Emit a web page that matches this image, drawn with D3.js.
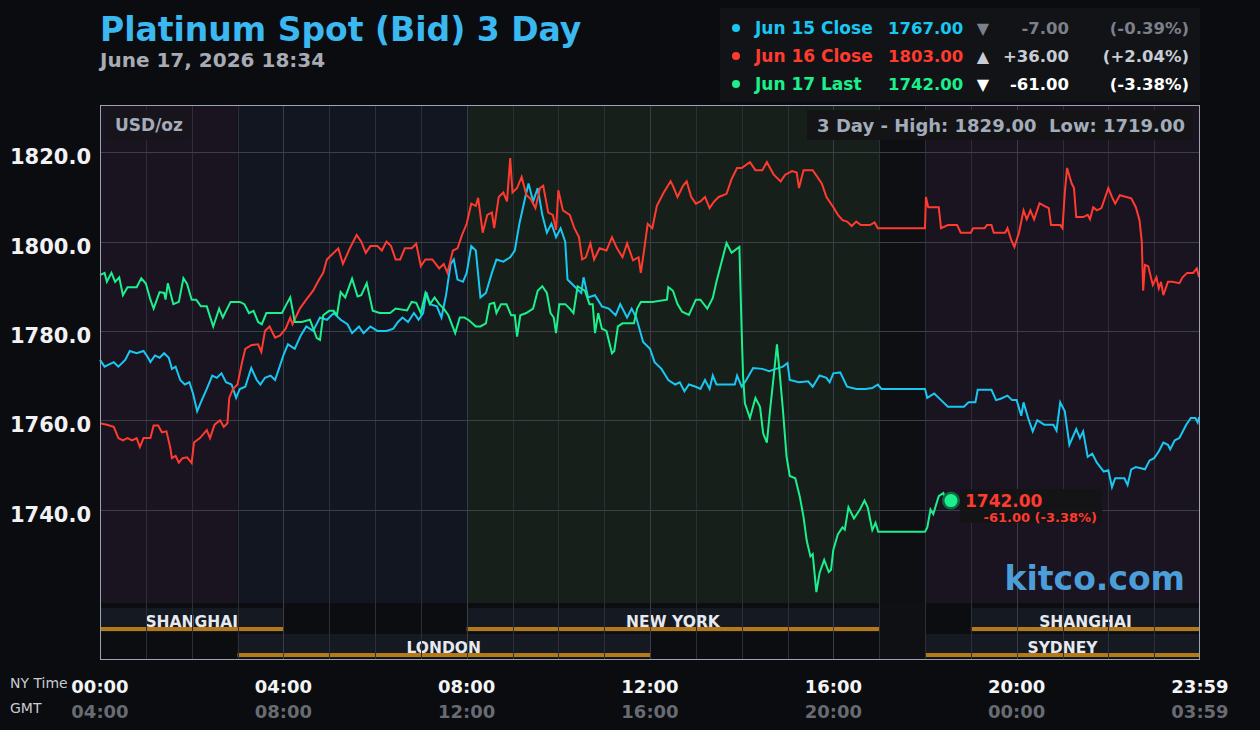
<!DOCTYPE html>
<html>
<head>
<meta charset="utf-8">
<script src="https://cdn.jsdelivr.net/npm/d3@7"></script>
<style>
	html, body { margin: 0; padding: 0; background: #0a0c10; }
	svg { display: block; font-family: "DejaVu Sans", sans-serif; }
</style>
</head>
<body>
<div id="graph"></div>
<script>
// ---- data (time in NY hours, price in USD/oz) ----
const jun15 = [[0,1773.5],[0.1,1772],[0.2,1772.5],[0.3,1773],[0.4,1772],[0.55,1773.5],[0.65,1775.5],[0.8,1775],[0.95,1775.5],[1.05,1774],[1.1,1773],[1.2,1774.5],[1.3,1774],[1.4,1775],[1.5,1774],[1.57,1771.5],[1.65,1772],[1.75,1769],[1.85,1768],[1.95,1768.5],[2.03,1766],[2.12,1762],[2.2,1764],[2.33,1767],[2.45,1770],[2.55,1769.5],[2.65,1770.5],[2.75,1768.5],[2.87,1768],[2.97,1765],[3.05,1767],[3.17,1767.5],[3.3,1771.7],[3.42,1769],[3.5,1768],[3.6,1769.5],[3.72,1770],[3.82,1769],[3.92,1772],[4.0,1774.5],[4.1,1777],[4.25,1776],[4.38,1779],[4.5,1781],[4.65,1780],[4.8,1783],[4.95,1782.5],[5.1,1784],[5.25,1782.5],[5.4,1781.5],[5.5,1779.5],[5.65,1781],[5.75,1779.5],[5.9,1781],[6.05,1780],[6.25,1780],[6.4,1780.5],[6.5,1782],[6.6,1783],[6.72,1782],[6.85,1784],[6.95,1782.5],[7.05,1784],[7.12,1788.7],[7.2,1786],[7.35,1785.5],[7.45,1783],[7.55,1788],[7.65,1795],[7.72,1796],[7.8,1791.5],[7.92,1791],[8.0,1793],[8.1,1799],[8.2,1798],[8.3,1787.5],[8.42,1788.5],[8.55,1793],[8.65,1796],[8.8,1795.5],[8.95,1796.5],[9.05,1798],[9.15,1804],[9.28,1810],[9.35,1813],[9.45,1809],[9.55,1812],[9.65,1806],[9.75,1802],[9.85,1804],[9.95,1801],[10.05,1803],[10.15,1800],[10.2,1791.5],[10.35,1790],[10.5,1788.5],[10.55,1792],[10.65,1787.5],[10.8,1788],[10.95,1785.5],[11.1,1785],[11.25,1783.5],[11.35,1786],[11.5,1783],[11.6,1785],[11.7,1783],[11.85,1777.5],[12.0,1776],[12.1,1773],[12.25,1771.5],[12.4,1769],[12.55,1768],[12.65,1768.5],[12.75,1766.5],[12.85,1768],[13.0,1767.5],[13.1,1767],[13.2,1769],[13.3,1767],[13.37,1770],[13.45,1768],[13.6,1768],[13.85,1768],[13.9,1770],[14.0,1767.5],[14.1,1769],[14.25,1771.7],[14.45,1771.5],[14.6,1771],[14.75,1771.5],[14.9,1772],[15.0,1772.8],[15.05,1769],[15.25,1768.5],[15.45,1768.7],[15.55,1767.5],[15.7,1770],[15.85,1769.5],[15.92,1768.5],[16.0,1770.5],[16.15,1770.7],[16.3,1767.5],[16.5,1767],[16.7,1767],[16.85,1767.2],[16.97,1768],[17.05,1767],[18.0,1767],[18.05,1765],[18.2,1766],[18.35,1764.5],[18.5,1763],[18.85,1763],[18.95,1764],[19.1,1764],[19.15,1766.8],[19.45,1766.8],[19.55,1764.5],[19.65,1764.8],[19.8,1765.5],[19.9,1764.5],[20.0,1764.5],[20.1,1761],[20.15,1764],[20.25,1760.5],[20.35,1757.5],[20.45,1760],[20.6,1759],[20.8,1759],[20.87,1757.7],[20.95,1764],[21.05,1762],[21.15,1754.5],[21.3,1758],[21.38,1756],[21.45,1757.5],[21.55,1751.8],[21.65,1752.5],[21.75,1750.5],[21.9,1748.5],[22.0,1748.8],[22.08,1745],[22.15,1747],[22.35,1747],[22.42,1745.5],[22.5,1749],[22.6,1749.5],[22.8,1749],[22.9,1751],[23.0,1751.5],[23.1,1753],[23.2,1755],[23.3,1754.5],[23.35,1753.5],[23.45,1755.5],[23.55,1756],[23.7,1759],[23.8,1760.5],[23.9,1760.5],[23.95,1759.5],[23.98,1760.7]];

const jun16 = [[0,1759.3],[0.15,1759],[0.3,1758.5],[0.33,1757.8],[0.4,1756],[0.5,1755.5],[0.6,1756],[0.7,1755.5],[0.8,1756],[0.87,1754],[0.95,1756],[1.1,1756],[1.17,1758.8],[1.27,1758.8],[1.35,1757.3],[1.45,1757.5],[1.53,1754],[1.57,1751.5],[1.65,1752],[1.72,1750.5],[1.8,1751.5],[1.9,1751.7],[2.0,1750.4],[2.05,1755],[2.18,1756],[2.33,1757.8],[2.4,1756],[2.5,1759],[2.62,1760],[2.7,1758.5],[2.78,1759.3],[2.82,1765],[2.9,1767],[3.0,1768],[3.1,1773],[3.17,1776],[3.3,1776.8],[3.45,1777],[3.52,1775.3],[3.6,1780],[3.7,1781],[3.82,1778.5],[3.93,1779],[4.05,1780.5],[4.15,1783],[4.2,1781.5],[4.36,1785],[4.5,1787],[4.65,1789],[4.78,1791.5],[4.87,1793],[4.95,1796],[5.05,1797],[5.2,1798.5],[5.3,1795],[5.45,1798.5],[5.6,1801.5],[5.7,1800],[5.8,1797.5],[5.9,1799],[6.05,1799],[6.15,1798],[6.25,1800],[6.35,1799],[6.45,1796],[6.55,1796],[6.65,1798.5],[6.8,1798.5],[6.9,1799.5],[7.0,1794.5],[7.1,1796],[7.25,1796],[7.4,1794],[7.5,1795],[7.58,1793],[7.7,1798],[7.8,1798.5],[7.9,1801.5],[8.0,1804],[8.1,1808.5],[8.2,1808],[8.25,1809.8],[8.35,1802],[8.45,1806],[8.55,1806.5],[8.6,1803],[8.7,1810],[8.8,1811],[8.88,1809],[8.95,1818.7],[9.0,1811],[9.1,1812],[9.2,1814.5],[9.3,1810.5],[9.4,1809.5],[9.5,1807.5],[9.6,1812],[9.67,1812.5],[9.78,1806.5],[9.88,1806],[9.95,1802.6],[10.0,1811.5],[10.1,1807],[10.25,1806],[10.35,1803],[10.45,1801],[10.52,1796],[10.6,1796.5],[10.7,1799.6],[10.78,1796],[10.9,1798.5],[11.05,1798],[11.17,1801],[11.28,1798.5],[11.4,1796.5],[11.5,1799.6],[11.63,1795.8],[11.75,1796.5],[11.8,1793],[11.87,1798],[11.95,1804],[12.05,1803],[12.15,1808],[12.3,1811],[12.45,1813.5],[12.5,1812.5],[12.6,1810],[12.72,1812.5],[12.8,1813.5],[12.9,1810],[13.0,1808.5],[13.1,1809],[13.2,1810],[13.3,1807.5],[13.4,1809],[13.5,1810],[13.67,1810.7],[13.78,1814],[13.9,1816.5],[14.0,1816.5],[14.18,1817.8],[14.3,1816],[14.45,1816],[14.55,1817.8],[14.7,1815],[14.85,1813.5],[14.95,1815],[15.1,1815.8],[15.2,1815.5],[15.25,1812],[15.35,1816],[15.55,1816],[15.65,1814.5],[15.75,1813],[15.85,1810],[16.0,1807.7],[16.1,1806],[16.2,1804.8],[16.3,1804.5],[16.4,1803.5],[16.5,1804.5],[16.6,1803.7],[16.8,1803.7],[16.9,1804.3],[16.97,1803],[18.0,1803],[18.02,1810],[18.07,1807.7],[18.3,1807.7],[18.35,1803],[18.5,1803.7],[18.7,1803.7],[18.78,1802],[19.0,1802],[19.05,1803],[19.3,1803],[19.35,1803.7],[19.45,1803.7],[19.5,1802],[19.75,1802],[19.8,1803],[19.88,1800.4],[19.95,1798.8],[20.05,1802],[20.15,1807],[20.22,1805],[20.3,1807],[20.38,1805],[20.5,1808.6],[20.6,1808],[20.7,1807.5],[20.75,1803.7],[20.95,1803.7],[21.0,1803],[21.05,1811],[21.1,1816.5],[21.2,1813],[21.25,1812],[21.3,1805.5],[21.45,1805.5],[21.55,1806],[21.6,1805],[21.67,1807.7],[21.75,1807],[21.85,1807.5],[22.0,1812],[22.08,1810],[22.15,1808.5],[22.25,1810.4],[22.5,1809.7],[22.6,1807.7],[22.68,1804.8],[22.73,1800],[22.76,1789],[22.8,1794.8],[22.87,1794.5],[22.97,1790.3],[23.05,1792],[23.1,1789.5],[23.15,1791],[23.2,1788],[23.3,1791],[23.4,1791],[23.55,1790.7],[23.62,1792],[23.72,1793],[23.85,1793],[23.93,1794],[23.98,1792]];

const jun17 = [[0,1792.5],[0.1,1793],[0.15,1791],[0.25,1793],[0.33,1791],[0.42,1792],[0.5,1788],[0.6,1789.8],[0.8,1789.8],[0.9,1791.8],[1.0,1790.6],[1.1,1787],[1.17,1785],[1.3,1788.7],[1.4,1788.5],[1.43,1787],[1.48,1790.7],[1.6,1786],[1.72,1786.5],[1.82,1791.8],[1.9,1790.5],[2.0,1787],[2.1,1787],[2.2,1785.5],[2.33,1785.5],[2.47,1781],[2.6,1785],[2.68,1783],[2.75,1784.5],[2.85,1786.5],[3.05,1786.5],[3.15,1786],[3.25,1784],[3.35,1784.5],[3.45,1782],[3.53,1781.5],[3.63,1784],[3.8,1784],[3.97,1784],[4.07,1786],[4.15,1787.5],[4.25,1782],[4.4,1782],[4.58,1782.5],[4.73,1778.4],[4.8,1778],[4.87,1783.5],[5.0,1784.5],[5.1,1784.5],[5.17,1783.5],[5.25,1788.7],[5.35,1787.5],[5.5,1791.7],[5.62,1787.7],[5.7,1788],[5.82,1790.7],[5.95,1784.5],[6.1,1784],[6.33,1784],[6.45,1785],[6.7,1784.6],[6.8,1786.5],[6.9,1786.3],[7.0,1784],[7.1,1788.5],[7.2,1786],[7.3,1787.5],[7.4,1786],[7.5,1785],[7.6,1783.5],[7.75,1779.5],[7.85,1783],[7.95,1783],[8.05,1782.4],[8.2,1781],[8.3,1781],[8.42,1781.7],[8.5,1786],[8.6,1786.3],[8.65,1784],[8.75,1786],[8.87,1786],[8.97,1783.5],[9.05,1783.5],[9.1,1778.7],[9.17,1783.5],[9.3,1784],[9.45,1785],[9.55,1789],[9.65,1790],[9.75,1788.5],[9.83,1784],[9.9,1783],[9.95,1779.5],[10.02,1786],[10.15,1786],[10.25,1785],[10.33,1784],[10.42,1790],[10.5,1789.5],[10.58,1789],[10.68,1786],[10.75,1786],[10.8,1779.5],[10.87,1784],[10.95,1780.5],[11.05,1780],[11.17,1775],[11.22,1775.5],[11.3,1781],[11.4,1781.7],[11.65,1781.7],[11.72,1785],[11.8,1786.5],[12.05,1786.5],[12.37,1787],[12.4,1789.8],[12.5,1789],[12.6,1786],[12.7,1784.3],[12.85,1783.6],[13.0,1787],[13.1,1787],[13.25,1785],[13.37,1787.4],[13.45,1791],[13.55,1795],[13.67,1799.7],[13.78,1797.5],[13.87,1798.2],[13.95,1798.8],[14.0,1780],[14.03,1770],[14.07,1763.8],[14.18,1760.5],[14.3,1765],[14.4,1763],[14.47,1757],[14.55,1755],[14.62,1762.3],[14.7,1770],[14.77,1777],[14.83,1770.5],[14.9,1762.3],[14.98,1751.8],[15.05,1747.5],[15.17,1747],[15.27,1742.8],[15.35,1738.3],[15.42,1733],[15.5,1729.5],[15.55,1730],[15.63,1721.5],[15.7,1725.8],[15.8,1728.7],[15.9,1726],[15.95,1726.5],[16.0,1731],[16.1,1734.5],[16.2,1736],[16.25,1735.5],[16.33,1740.5],[16.45,1738],[16.58,1740],[16.68,1742],[16.75,1740.5],[16.85,1735.4],[16.92,1737],[16.98,1735],[18.0,1735],[18.05,1736],[18.12,1740],[18.18,1739],[18.3,1743],[18.4,1743.7],[18.47,1742],[18.567,1742]];

const seriesNames = ["Jun 15 Close", "Jun 16 Close", "Jun 17 Last"];
const seriesColors = ["#19c8f2", "#ff3b30", "#1cf08c"];
const legendPrices = ["1767.00", "1803.00", "1742.00"];
const legendChanges = ["-7.00", "+36.00", "-61.00"];
const legendPcts = ["(-0.39%)", "(+2.04%)", "(-3.38%)"];
const legendArrows = ["\u25BC", "\u25B2", "\u25BC"];
const legendTextColors = ["#7b808a", "#c8ccd4", "#ffffff"];

const yTicks = [1740, 1760, 1780, 1800, 1820];
const xTickHours = [0, 4, 8, 12, 16, 20, 24];
const nyLabels = ["00:00", "04:00", "08:00", "12:00", "16:00", "20:00", "23:59"];
const gmtLabels = ["04:00", "08:00", "12:00", "16:00", "20:00", "00:00", "03:59"];

// background shading of the price area by market session
const shading = [[0, 3, "#1a1320"], [3, 8, "#111621"], [8, 17, "#161f19"], [17, 18, "#0d0f12"], [18, 24, "#1a1320"]];
// session bars: [start, end, name, row]
const sessions = [[0, 4, "SHANGHAI", 0], [8, 17, "NEW YORK", 0], [19, 24, "SHANGHAI", 0], [3, 12, "LONDON", 1], [18, 24, "SYDNEY", 1]];

// ---- layout ----
const W = 1260, H = 730;
const box = { left: 100, right: 1200, top: 105, price: 603, bottom: 660 };

const svg = d3.select("#graph").append("svg").attr("width", W).attr("height", H);
svg.append("rect").attr("width", W).attr("height", H).attr("fill", "#0a0c10");

const x = d3.scaleLinear().domain([0, 24]).range([box.left, box.right]);
const y = d3.scaleLinear().domain([1719.06, 1830.6]).range([box.price, box.top]);

// session shading
svg.selectAll("rect.shade").data(shading).enter().append("rect")
	.attr("x", (d) => x(d[0])).attr("width", (d) => x(d[1]) - x(d[0]))
	.attr("y", box.top).attr("height", box.price - box.top)
	.attr("fill", (d) => d[2]);

// lower strip holding the session bars
svg.append("rect").attr("x", box.left).attr("y", box.price).attr("width", box.right - box.left)
	.attr("height", box.bottom - box.price).attr("fill", "#0b0d10");
svg.append("rect").attr("x", x(17)).attr("y", box.price).attr("width", x(18) - x(17))
	.attr("height", box.bottom - box.price).attr("fill", "#0e1013");

const rowTop = [608, 634];
const rowH = 24;
const bars = svg.selectAll("g.session").data(sessions).enter().append("g");
bars.append("rect")
	.attr("x", (d) => x(d[0])).attr("width", (d) => x(d[1]) - x(d[0]))
	.attr("y", (d) => rowTop[d[3]]).attr("height", rowH)
	.attr("fill", "#141922");

// vertical grid, every hour
svg.selectAll("line.vgrid").data(d3.range(1, 24)).enter().append("line")
	.attr("x1", (d) => Math.round(x(d)) + 0.5).attr("x2", (d) => Math.round(x(d)) + 0.5)
	.attr("y1", box.top).attr("y2", box.bottom)
	.attr("stroke", (d) => (d % 4 === 0 ? "#3a3d46" : "#2c2f37")).attr("stroke-width", 1);

// horizontal grid
svg.selectAll("line.hgrid").data(yTicks).enter().append("line")
	.attr("x1", box.left).attr("x2", box.right)
	.attr("y1", (d) => Math.round(y(d)) + 0.5).attr("y2", (d) => Math.round(y(d)) + 0.5)
	.attr("stroke", "#3c3f48").attr("stroke-width", 1);

// gold underline + label of each session
bars.append("rect")
	.attr("x", (d) => x(d[0])).attr("width", (d) => x(d[1]) - x(d[0]))
	.attr("y", (d) => rowTop[d[3]] + 19).attr("height", 4)
	.attr("fill", "#b57a17");
bars.append("text")
	.attr("x", (d) => (x(d[0]) + x(d[1])) / 2)
	.attr("y", (d) => rowTop[d[3]] + 19)
	.attr("text-anchor", "middle")
	.attr("font-size", 15.5).attr("font-weight", "bold")
	.attr("fill", "#e6e9f0")
	.text((d) => d[2]);

// y axis labels
svg.selectAll("text.ylab").data(yTicks).enter().append("text")
	.attr("x", 91).attr("y", (d) => y(d) + 12)
	.attr("text-anchor", "end").attr("font-size", 21).attr("font-weight", "bold")
	.attr("fill", "#f2f2f4")
	.text((d) => d.toFixed(1));

// price lines
const line = d3.line().x((d) => x(d[0])).y((d) => y(d[1]));
svg.selectAll("path.series").data([jun15, jun16, jun17]).enter().append("path")
	.attr("d", line)
	.attr("fill", "none")
	.attr("stroke", (d, i) => seriesColors[i])
	.attr("stroke-width", 2)
	.attr("stroke-linejoin", "miter");

// plot frame
svg.append("rect").attr("x", box.left + 0.5).attr("y", box.top + 0.5)
	.attr("width", box.right - box.left - 1).attr("height", box.bottom - box.top - 1)
	.attr("fill", "none").attr("stroke", "#9aa2b4").attr("stroke-width", 1);

// unit + range boxes
svg.append("rect").attr("x", 105).attr("y", 110).attr("width", 86).attr("height", 30).attr("fill", "#17141b");
svg.append("text").attr("x", 115).attr("y", 131).attr("font-size", 17).attr("font-weight", "bold")
	.attr("fill", "#a4abb9").text("USD/oz");
svg.append("rect").attr("x", 807).attr("y", 110).attr("width", 386).attr("height", 30).attr("fill", "#141417");
svg.append("text").attr("x", 1185).attr("y", 132).attr("text-anchor", "end")
	.attr("font-size", 18).attr("font-weight", "bold").attr("fill", "#a3acba")
	.attr("xml:space", "preserve")
	.text("3 Day - High: 1829.00  Low: 1719.00");

// watermark
svg.append("text").attr("x", 1185).attr("y", 590).attr("text-anchor", "end")
	.attr("font-size", 33).attr("font-weight", "bold").attr("fill", "#4c9ed9")
	.text("kitco.com");

// last price marker + label
const lastPt = jun17[jun17.length - 1];
svg.append("rect").attr("x", 960).attr("y", 489).attr("width", 142).attr("height", 34)
	.attr("fill", "#131416").attr("opacity", 0.92);
svg.append("circle").attr("cx", x(lastPt[0])).attr("cy", y(lastPt[1])).attr("r", 9)
	.attr("fill", "#0f6a44");
svg.append("circle").attr("cx", x(lastPt[0])).attr("cy", y(lastPt[1])).attr("r", 6.5)
	.attr("fill", "#1cf08c");
svg.append("text").attr("x", 965).attr("y", 507).attr("font-size", 17).attr("font-weight", "bold")
	.attr("fill", "#ff3b30").text(legendPrices[2]);
svg.append("text").attr("x", 1097).attr("y", 522).attr("text-anchor", "end")
	.attr("font-size", 13).attr("font-weight", "bold").attr("fill", "#ff3b30")
	.text(legendChanges[2] + " " + legendPcts[2]);

// title
svg.append("text").attr("x", 100).attr("y", 41).attr("font-size", 33).attr("font-weight", "bold")
	.attr("fill", "#3bb8f0").text("Platinum Spot (Bid) 3 Day");
svg.append("text").attr("x", 100).attr("y", 67).attr("font-size", 20).attr("font-weight", "bold")
	.attr("fill", "#a8aab4").text("June 17, 2026 18:34");

// legend
svg.append("rect").attr("x", 720).attr("y", 8).attr("width", 480).attr("height", 94).attr("fill", "#111317");
const rows = svg.selectAll("g.leg").data(seriesNames).enter().append("g")
	.attr("transform", (d, i) => "translate(0," + (28 + i * 28) + ")");
rows.append("circle").attr("cx", 736).attr("cy", 0).attr("r", 4).attr("fill", (d, i) => seriesColors[i]);
rows.append("text").attr("x", 755).attr("y", 6).attr("font-size", 17).attr("font-weight", "bold")
	.attr("fill", (d, i) => seriesColors[i]).text((d) => d);
rows.append("text").attr("x", 888).attr("y", 6).attr("font-size", 16.5).attr("font-weight", "bold")
	.attr("fill", (d, i) => seriesColors[i]).text((d, i) => legendPrices[i]);
rows.append("text").attr("x", 983).attr("y", 6).attr("text-anchor", "middle").attr("font-size", 16)
	.attr("fill", (d, i) => legendTextColors[i]).text((d, i) => legendArrows[i]);
rows.append("text").attr("x", 1069).attr("y", 6).attr("text-anchor", "end").attr("font-size", 16.5)
	.attr("font-weight", "bold").attr("fill", (d, i) => legendTextColors[i]).text((d, i) => legendChanges[i]);
rows.append("text").attr("x", 1189).attr("y", 6).attr("text-anchor", "end").attr("font-size", 16.5)
	.attr("font-weight", "bold").attr("fill", (d, i) => legendTextColors[i]).text((d, i) => legendPcts[i]);

// x axis: NY time and GMT
svg.append("text").attr("x", 10).attr("y", 688).attr("font-size", 14).attr("fill", "#c9cad2").text("NY Time");
svg.append("text").attr("x", 10).attr("y", 713).attr("font-size", 14).attr("fill", "#c9cad2").text("GMT");
svg.selectAll("text.ny").data(xTickHours).enter().append("text")
	.attr("x", (d) => x(d)).attr("y", 693).attr("text-anchor", "middle")
	.attr("font-size", 18).attr("font-weight", "bold").attr("fill", "#f4f4f6")
	.text((d, i) => nyLabels[i]);
svg.selectAll("text.gmt").data(xTickHours).enter().append("text")
	.attr("x", (d) => x(d)).attr("y", 718).attr("text-anchor", "middle")
	.attr("font-size", 18).attr("font-weight", "bold").attr("fill", "#686b72")
	.text((d, i) => gmtLabels[i]);
</script>
</body>
</html>
